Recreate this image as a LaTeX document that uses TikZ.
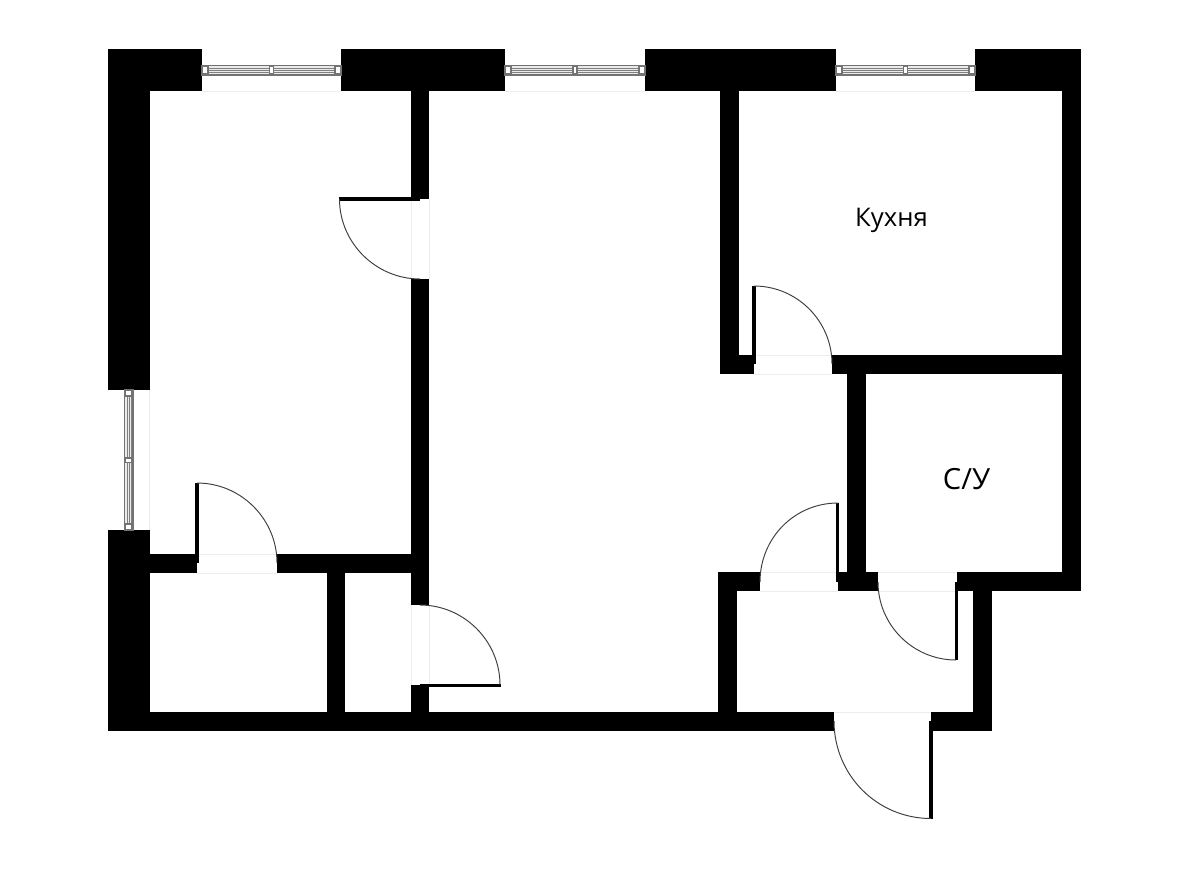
\documentclass[tikz,border=0pt]{standalone}
\usepackage{fontspec}
\setmainfont{Open Sans}
\usetikzlibrary{positioning}

\tikzset{
	wall/.style={fill=black},
	leaf/.style={fill=black},
	swing/.style={draw=black!75,line width=0.55pt},
	sill/.style={draw=black!7,line width=0.3pt},
	frame/.style={draw=black!55,fill=white,line width=0.6pt},
	pane/.style={draw=black!55,fill=black!8,line width=0.6pt},
	bar/.style={draw=black!50,line width=0.55pt},
	roomlabel/.style={font=\fontsize{14.6pt}{17pt}\selectfont,inner sep=0pt}
}

% window along a top wall, #1 left end, #2 right end
\newcommand{\hwindow}[2]{
	\path[pane] (#1,65.5) rectangle (#2,75);
	\draw[bar] (#1,68.5) -- (#2,68.5);
	\draw[bar] (#1,70.5) -- (#2,70.5);
	\draw[bar] (#1,72.5) -- (#2,72.5);
	\path[frame] (#1+0.5,66.5) rectangle (#1+6,74);
	\path[frame] ({(#1+#2)/2-2},66.5) rectangle ({(#1+#2)/2+2},74);
	\path[frame] (#2-6,66.5) rectangle (#2-0.5,74);
}

\begin{document}
\begin{tikzpicture}[x=0.02cm,y=-0.02cm]
		\useasboundingbox (0,0) rectangle (1200,872);
		\fill[white] (0,0) rectangle (1200,872);
		%
		% faint lines over the openings
		\draw[sill] (202,91) -- (341,91);
		\draw[sill] (505,91) -- (645,91);
		\draw[sill] (836,91) -- (975,91);
		\draw[sill] (149.5,390) -- (149.5,530);
		\draw[sill] (411,199) -- (411,279);
		\draw[sill] (429,199) -- (429,279);
		\draw[sill] (411,605) -- (411,685);
		\draw[sill] (429,605) -- (429,685);
		\draw[sill] (197,554) -- (277,554);
		\draw[sill] (197,573) -- (277,573);
		\draw[sill] (754,355) -- (832,355);
		\draw[sill] (754,374) -- (832,374);
		\draw[sill] (760,572) -- (838,572);
		\draw[sill] (760,591) -- (838,591);
		\draw[sill] (878,572) -- (956,572);
		\draw[sill] (878,591) -- (956,591);
		\draw[sill] (834,712) -- (931,712);
		%
		% outer walls
		\fill[wall] (108,49) rectangle (202,91);
		\fill[wall] (341,49) rectangle (505,91);
		\fill[wall] (645,49) rectangle (836,91);
		\fill[wall] (975,49) rectangle (1081,91);
		\fill[wall] (108,91) rectangle (149.5,390);
		\fill[wall] (108,530) rectangle (149.5,730.5);
		\fill[wall] (1062,91) rectangle (1081,591);
		\fill[wall] (149,712) rectangle (834,730.5);
		\fill[wall] (931,712) rectangle (992,730.5);
		\fill[wall] (973,591) rectangle (992,712);
		\fill[wall] (957,572) rectangle (1062,591);
		% inner walls
		\fill[wall] (411,91) rectangle (429,199);
		\fill[wall] (411,279) rectangle (429,605);
		\fill[wall] (411,685) rectangle (429,712);
		\fill[wall] (149,554) rectangle (197,573);
		\fill[wall] (277,554) rectangle (411,573);
		\fill[wall] (327,573) rectangle (345,712);
		\fill[wall] (719.5,91) rectangle (738.5,355);
		\fill[wall] (719.5,355) rectangle (754,374);
		\fill[wall] (832,355) rectangle (1062,374);
		\fill[wall] (847,374) rectangle (865.5,572);
		\fill[wall] (838,572) rectangle (878,591);
		\fill[wall] (718,572) rectangle (760,591);
		\fill[wall] (718,591) rectangle (737,712);
		%
		% windows
		\hwindow{202}{341}
		\hwindow{505}{645}
		\hwindow{836}{975}
		\path[pane] (124.5,390) rectangle (133,530);
		\draw[bar] (127,390) -- (127,530);
		\draw[bar] (129,390) -- (129,530);
		\draw[bar] (131,390) -- (131,530);
		\path[frame] (125.5,390.5) rectangle (132,396);
		\path[frame] (125.5,458) rectangle (132,462.5);
		\path[frame] (125.5,524) rectangle (132,529.5);
		%
		% door leaves
		\fill[leaf] (339,197) rectangle (420,200.5);
		\fill[leaf] (195,483) rectangle (199,563);
		\fill[leaf] (420,684) rectangle (500.5,686.5);
		\fill[leaf] (835.5,503) rectangle (839,582);
		\fill[leaf] (955,582) rectangle (958,660);
		\fill[leaf] (929,721) rectangle (933,818.5);
		\fill[leaf] (752,286) rectangle (755.5,364);
		% door swings
		\draw[swing] (339.5,199) .. controls (339.5,243) and (376,279) .. (420,279);
		\draw[swing] (197,483) .. controls (241,483) and (277,519) .. (277,563);
		\draw[swing] (420,605) .. controls (464,605) and (500,641) .. (500,685);
		\draw[swing] (838,503) .. controls (794.5,503) and (760,538) .. (760,582);
		\draw[swing] (878,582) .. controls (878,625) and (913,660) .. (956,660);
		\draw[swing] (834,721) .. controls (834,775) and (877,818.5) .. (931,818.5);
		\draw[swing] (754,286) .. controls (797,286) and (832,321) .. (832,364);
		%
		% rooms
		\node[roomlabel] (kitchen) at (891.5,220) {Кухня};
		\node[roomlabel,font=\fontsize{16.6pt}{18pt}\selectfont] (bath) at (966.5,479) {С/У};
	\end{tikzpicture}
\end{document}
